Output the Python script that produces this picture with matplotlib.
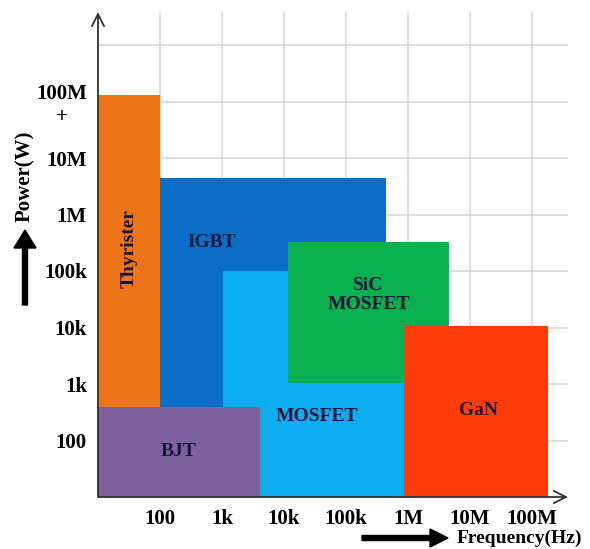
import matplotlib.pyplot as plt
import matplotlib.patches as mpatches
import matplotlib.transforms as mtransforms

# device regions: frequency range (Hz) and power range (W)
devices = ['Thyrister', 'IGBT', 'MOSFET', 'SiC\nMOSFET', 'GaN', 'BJT']
f_lo = [10, 100, 1.05e3, 1.15e4, 8.7e5, 10]
f_hi = [100, 4.4e5, 8.9e5, 4.6e6, 1.8e8, 4.1e3]
p_lo = [10, 3.9e2, 10, 1.05e3, 10, 10]
p_hi = [1.3e8, 4.5e6, 1e5, 3.2e5, 1.07e4, 3.9e2]
colors = ['#EE7418', '#0A6EC8', '#0AAEEF', '#0AAF50', '#FF3C0A', '#7E62A0']

# where the device names sit
lab_f = [31.6, 690, 3.4e4, 2.3e5, 1.35e7, 196]
lab_p = [2.5e5, 3.2e5, 263, 3.8e4, 333, 63]
lab_rot = [90, 0, 0, 0, 0, 0]

x_ticks = [1e2, 1e3, 1e4, 1e5, 1e6, 1e7, 1e8]
x_labels = ['100', '1k', '10k', '100k', '1M', '10M', '100M']
y_ticks = [1e2, 1e3, 1e4, 1e5, 1e6, 1e7, 1e8, 1e9]
y_labels = ['100', '1k', '10k', '100k', '1M', '10M', '100M\n+', '']

plt.rcParams['font.family'] = ['Liberation Serif', 'DejaVu Serif']
plt.rcParams['font.weight'] = 'bold'

W, H = 590, 549
fig = plt.figure(figsize=(W / 100, H / 100), dpi=100)
ax = fig.add_axes([98 / W, 52 / H, 470 / W, 485 / H])
ax.set_xscale('log')
ax.set_yscale('log')
ax.set_xlim(10, 10 ** (1 + 470 / 62))
ax.set_ylim(10, 10 ** (1 + 485 / 56.5))

for i in range(len(devices)):
    ax.bar(f_lo[i], p_hi[i] - p_lo[i], width=f_hi[i] - f_lo[i], bottom=p_lo[i],
           align='edge', color=colors[i], linewidth=0, zorder=2)
    ax.text(lab_f[i], lab_p[i], devices[i], rotation=lab_rot[i], ha='center',
            va='center', fontsize=14, fontweight='bold', color='#16163a',
            linespacing=1.15, zorder=3)

ax.set_xticks(x_ticks)
ax.set_xticklabels(x_labels)
ax.set_yticks(y_ticks)
ax.set_yticklabels(y_labels, multialignment='center')
ax.minorticks_off()
ax.tick_params(length=0, labelsize=15, pad=8)
ax.tick_params(axis='x', pad=9)
ax.grid(True, color='#d4d4d4', linewidth=1.1, zorder=0)
ax.set_axisbelow(True)
for s in ax.spines.values():
    s.set_visible(False)

# axes drawn as arrows
ax.annotate('', xy=(1.0, 0), xytext=(0, 0), xycoords='axes fraction',
            arrowprops=dict(arrowstyle='->', color='#333333', lw=1.3,
                            mutation_scale=22, shrinkA=0, shrinkB=0))
ax.annotate('', xy=(0, 1.0), xytext=(0, 0), xycoords='axes fraction',
            arrowprops=dict(arrowstyle='->', color='#333333', lw=1.3,
                            mutation_scale=22, shrinkA=0, shrinkB=0))

# pixel coordinates from the top-left corner
px = mtransforms.Affine2D().scale(1, -1).translate(0, H)

# axis titles with their black arrows
fig.text(25 / W, 1 - 176 / H, 'Power(W)', rotation=90, ha='center', va='center',
         fontsize=15, fontweight='bold')
fig.patches.append(mpatches.FancyArrow(25, 305, 0, -75, width=5, head_width=22,
                                       head_length=18, length_includes_head=True,
                                       transform=px, color='black'))
fig.text(457 / W, 1 - 538 / H, 'Frequency(Hz)', ha='left', va='center',
         fontsize=14, fontweight='bold')
fig.patches.append(mpatches.FancyArrow(362, 538, 86, 0, width=5, head_width=18,
                                       head_length=18, length_includes_head=True,
                                       transform=px, color='black'))

plt.savefig('out.png', dpi=100)
